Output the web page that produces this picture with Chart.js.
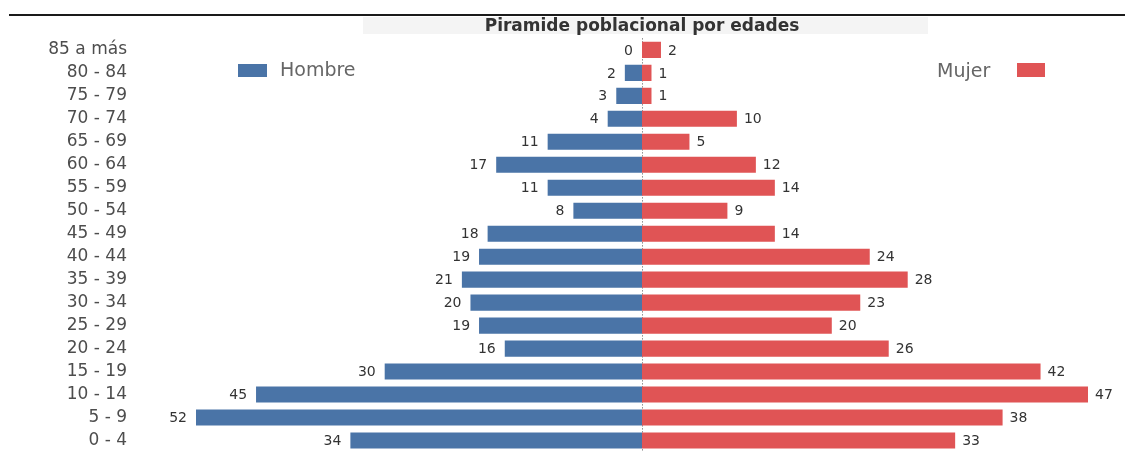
<!DOCTYPE html>
<html lang="es">
<head>
    <meta charset="UTF-8">
    <title>Piramide poblacional por edades</title>
    <script src="https://cdn.jsdelivr.net/npm/chart.js"></script>
    <style>
        html, body { margin: 0; padding: 0; background: #fff; overflow: hidden; }
    </style>
</head>
<body>
    <canvas id="pyramid" width="1133" height="452"></canvas>

    <script>
        // Age groups, top to bottom
        const ageGroups = ['85 a más', '80 - 84', '75 - 79', '70 - 74', '65 - 69', '60 - 64', '55 - 59',
            '50 - 54', '45 - 49', '40 - 44', '35 - 39', '30 - 34', '25 - 29', '20 - 24',
            '15 - 19', '10 - 14', '5 - 9', '0 - 4'];

        const hombre = [0, 2, 3, 4, 11, 17, 11, 8, 18, 19, 21, 20, 19, 16, 30, 45, 52, 34];
        const mujer = [2, 1, 1, 10, 5, 12, 14, 9, 14, 24, 28, 23, 20, 26, 42, 47, 38, 33];

        const seriesNames = ['Hombre', 'Mujer'];
        const blue = '#4a74a7';
        const red = '#e05455';
        const font = 'DejaVu Sans';

        // each side is scaled to its own maximum, like the original
        const maxH = Math.max(...hombre);
        const maxM = Math.max(...mujer);

        // background band, top rule, centre line and legend
        const decorations = {
            id: 'decorations',
            beforeDraw(chart) {
                const ctx = chart.ctx;
                ctx.save();
                ctx.fillStyle = '#f4f4f4';
                ctx.fillRect(363, 17, 565, 17);
                ctx.fillStyle = '#1a1a1a';
                ctx.fillRect(9, 14, 1116, 2);
                ctx.restore();
            },
            beforeDatasetsDraw(chart) {
                const ctx = chart.ctx;
                const x = Math.round(chart.scales.xM.getPixelForValue(0)) + 0.5;
                ctx.save();
                ctx.strokeStyle = '#555';
                ctx.lineWidth = 1;
                ctx.setLineDash([1, 2]);
                ctx.beginPath();
                ctx.moveTo(x, chart.chartArea.top);
                ctx.lineTo(x, chart.chartArea.bottom);
                ctx.stroke();
                ctx.restore();
            },
            afterDraw(chart) {
                const ctx = chart.ctx;
                ctx.save();
                ctx.font = '19px "' + font + '"';
                ctx.textBaseline = 'middle';
                // Hombre
                ctx.fillStyle = blue;
                ctx.fillRect(238, 64, 29, 13);
                ctx.fillStyle = '#666';
                ctx.textAlign = 'left';
                ctx.fillText(seriesNames[0], 280, 71);
                // Mujer
                ctx.fillText(seriesNames[1], 937, 72);
                ctx.fillStyle = red;
                ctx.fillRect(1017, 63, 28, 14);
                ctx.restore();
            }
        };

        // value labels at the end of every bar
        const valueLabels = {
            id: 'valueLabels',
            afterDatasetsDraw(chart) {
                const ctx = chart.ctx;
                ctx.save();
                ctx.font = '14px "' + font + '"';
                ctx.fillStyle = '#333';
                ctx.textBaseline = 'middle';
                ctx.textAlign = 'right';
                chart.getDatasetMeta(0).data.forEach((bar, i) => {
                    ctx.fillText(hombre[i], bar.x - 9, bar.y + 1);
                });
                ctx.textAlign = 'left';
                chart.getDatasetMeta(1).data.forEach((bar, i) => {
                    ctx.fillText(mujer[i], bar.x + 7, bar.y + 1);
                });
                ctx.restore();
            }
        };

        const ctx = document.getElementById('pyramid').getContext('2d');
        const pyramid = new Chart(ctx, {
            type: 'bar',
            data: {
                labels: ageGroups,
                datasets: [{
                    label: seriesNames[0],
                    data: hombre.map(v => -v),
                    xAxisID: 'xH',
                    backgroundColor: blue,
                    grouped: false,
                    barPercentage: 0.7,
                    categoryPercentage: 1
                }, {
                    label: seriesNames[1],
                    data: mujer,
                    xAxisID: 'xM',
                    backgroundColor: red,
                    grouped: false,
                    barPercentage: 0.7,
                    categoryPercentage: 1
                }]
            },
            options: {
                indexAxis: 'y',
                responsive: false,
                animation: false,
                layout: { padding: { left: 0, right: 45, top: 0, bottom: 0 } },
                scales: {
                    xH: { type: 'linear', display: false, min: -maxH, max: maxH },
                    xM: { type: 'linear', display: false, min: -maxM, max: maxM },
                    y: {
                        position: 'left',
                        grid: { display: false, drawTicks: false },
                        border: { display: false },
                        ticks: {
                            autoSkip: false,
                            padding: 69,
                            color: '#4d4d4d',
                            font: { family: font, size: 17 }
                        },
                        // wide gutter for the labels, but no extra top/bottom padding
                        afterFit(scale) {
                            scale.width = 196;
                            scale.paddingTop = 0;
                            scale.paddingBottom = 0;
                        }
                    }
                },
                plugins: {
                    legend: { display: false },
                    tooltip: { enabled: false },
                    title: {
                        display: true,
                        text: 'Piramide poblacional por edades',
                        fullSize: false,
                        color: '#333',
                        font: { family: font, size: 17, weight: 'bold' },
                        padding: { top: 16, bottom: 2 }
                    }
                }
            },
            plugins: [decorations, valueLabels]
        });
    </script>
</body>
</html>
